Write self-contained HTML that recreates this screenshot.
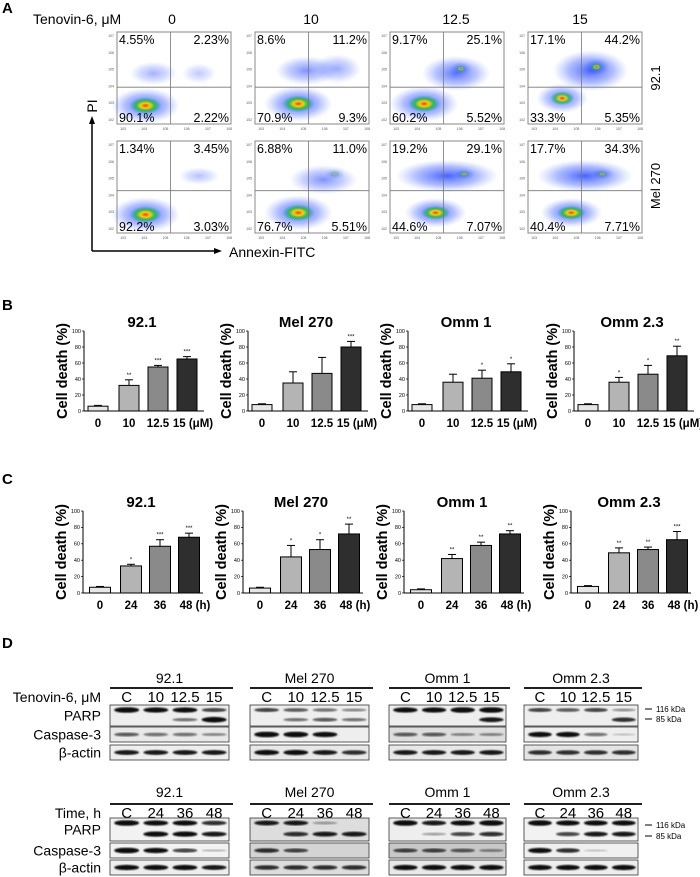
<!DOCTYPE html>
<html><head><meta charset="utf-8"><style>
html,body{margin:0;padding:0;background:#fff;}
svg{display:block;font-family:"Liberation Sans",Arial,sans-serif;}
</style></head><body>
<svg id="fig" width="700" height="877" viewBox="0 0 700 877" xmlns="http://www.w3.org/2000/svg">
<defs>
<radialGradient id="gBlue"><stop offset="0" stop-color="#1a3cff" stop-opacity="0.8"/><stop offset="0.6" stop-color="#3a5cff" stop-opacity="0.4"/><stop offset="1" stop-color="#6a8cff" stop-opacity="0"/></radialGradient>
<radialGradient id="gHot"><stop offset="0" stop-color="#ff3010" stop-opacity="1"/><stop offset="0.3" stop-color="#ffd000" stop-opacity="1"/><stop offset="0.6" stop-color="#20c040" stop-opacity="0.9"/><stop offset="1" stop-color="#10a0c0" stop-opacity="0"/></radialGradient>
<filter id="blur1"><feGaussianBlur stdDeviation="0.8"/></filter>
</defs>
<g id="panelA"></g>
<g id="panelBC"></g>
<g id="panelD"></g>
</svg>
<script>
// ---------- data ----------
const bTitles=["92.1","Mel 270","Omm 1","Omm 2.3"];
const bCats=["0","10","12.5","15 (\u03bcM)"];
const bMeans=[[6,32,55,65],[8,35,47,80],[8,36,41,49],[8,36,46,69]];
const bErrs=[[1,7,2,3],[1,14,20,7],[1,10,10,10],[1,6,11,12]];
const bStars=[["","**","***","***"],["","","","***"],["","","*","*"],["","*","*","**"]];
const cTitles=["92.1","Mel 270","Omm 1","Omm 2.3"];
const cCats=["0","24","36","48 (h)"];
const cMeans=[[7,33,57,68],[6,44,53,72],[4,42,58,72],[8,49,53,65]];
const cErrs=[[1,2,8,5],[1,14,12,12],[1,5,4,4],[1,6,3,10]];
const cStars=[["","*","***","***"],["","*","*","**"],["","**","**","**"],["","**","**","***"]];
const flowPct=[
 [["4.55%","2.23%","90.1%","2.22%"],["8.6%","11.2%","70.9%","9.3%"],["9.17%","25.1%","60.2%","5.52%"],["17.1%","44.2%","33.3%","5.35%"]],
 [["1.34%","3.45%","92.2%","3.03%"],["6.88%","11.0%","76.7%","5.51%"],["19.2%","29.1%","44.6%","7.07%"],["17.7%","34.3%","40.4%","7.71%"]]];
const doses=["0","10","12.5","15"];
const tLanesTop=["C","10","12.5","15"];
const tLanesBot=["C","24","36","48"];
const blotTitles=["92.1","Mel 270","Omm 1","Omm 2.3"];
// band intensities [PARP116, PARP85, Casp3, actin] per lane
const blotTop=[
 [[1,.9,.9,.6],[0,0,.4,1],[.5,.4,.4,.3],[.8,.8,.8,.8]],
 [[.6,.5,.4,.3],[0,.4,.5,.4],[1,1,.9,0],[.9,.9,.8,.7]],
 [[.9,.9,1,1],[0,0,0,.8],[.5,.5,.3,.3],[.8,.8,.8,.8]],
 [[.6,.5,.6,.25],[0,0,0,.7],[.9,.9,.4,.05],[.7,.7,.7,.7]]];
const blotBot=[
 [[1,.9,.9,.7],[0,.9,.9,.8],[1,.9,.6,.1],[.9,.9,.9,.8]],
 [[.8,.8,.2,0],[0,.7,.8,.8],[.7,.6,0,0],[.7,.7,.7,.7]],
 [[1,.8,.9,1],[0,.2,.6,.7],[.6,.6,.5,.3],[.9,.9,.9,.9]],
 [[1,.9,.9,.9],[0,.6,.8,.8],[.9,.7,.05,0],[.9,.9,.9,.9]]];

const NS="http://www.w3.org/2000/svg";
function mk(parent,tag,attrs,text){const e=document.createElementNS(NS,tag);for(const k in attrs)e.setAttribute(k,attrs[k]);if(text!==undefined)e.textContent=text;parent.appendChild(e);return e;}

// ---------- Panel A ----------
const A=document.getElementById('panelA');
let t=mk(A,'text',{x:2,y:13,'font-size':15,'font-weight':'bold'},'A');


t=mk(A,'text',{x:33,y:24,'font-size':14},'Tenovin-6, \u03bcM');


const colX=[117,255,390,528], rowY=[32,141], pw=114, ph=92;
const headX=[172,311,456,580];
doses.forEach((d,i)=>{const h=mk(A,'text',{x:headX[i],y:24,'font-size':14,'text-anchor':'middle'},d);
 
 });
// clusters: [cx,cy,rx,ry,hot(0/1),opacity]
const clusters=[
 [[[.25,.8,.2,.12,1,1],[.32,.45,.14,.08,0,.5],[.72,.45,.1,.07,0,.35]],
  [[.38,.78,.2,.12,1,1],[.45,.42,.18,.1,0,.7],[.72,.4,.14,.1,0,.55]],
  [[.3,.78,.2,.12,1,1],[.58,.45,.2,.12,0,.9],[.62,.4,.07,.05,1,.6]],
  [[.3,.72,.15,.1,1,.9],[.55,.42,.22,.14,0,1],[.6,.38,.08,.06,1,.8]]],
 [[[.25,.8,.2,.12,1,1],[.72,.38,.12,.06,0,.4]],
  [[.38,.78,.2,.12,1,1],[.6,.42,.2,.1,0,.7],[.7,.36,.06,.04,1,.4]],
  [[.4,.78,.18,.1,1,1],[.5,.38,.3,.11,0,1],[.65,.36,.07,.04,1,.6]],
  [[.38,.78,.18,.1,1,1],[.5,.38,.28,.11,0,1],[.65,.36,.07,.04,1,.6]]]];
const hLine=[.6,.54];
for(let r=0;r<2;r++)for(let c=0;c<4;c++){
 const x0=colX[c],y0=rowY[r];
 const g=mk(A,'g',{});
 
 
 mk(g,'rect',{x:x0,y:y0,width:pw,height:ph,fill:'#fff',stroke:'#888','stroke-width':1});
 clusters[r][c].forEach(cl=>{
  mk(g,'ellipse',{cx:x0+cl[0]*pw,cy:y0+cl[1]*ph,rx:cl[2]*pw*1.5,ry:cl[3]*ph*1.6,fill:'url(#gBlue)',opacity:cl[5]});
  if(cl[4])mk(g,'ellipse',{cx:x0+cl[0]*pw,cy:y0+cl[1]*ph,rx:cl[2]*pw*0.7,ry:cl[3]*ph*0.75,fill:'url(#gHot)',opacity:cl[5]});
 });
 mk(g,'line',{x1:x0+0.47*pw,y1:y0,x2:x0+0.47*pw,y2:y0+ph,stroke:'#777','stroke-width':0.8});
 mk(g,'line',{x1:x0,y1:y0+hLine[r]*ph,x2:x0+pw,y2:y0+hLine[r]*ph,stroke:'#777','stroke-width':0.8});
 const p=flowPct[r][c];
 [[x0+2,y0+12,'start',p[0]],[x0+pw-2,y0+12,'end',p[1]],[x0+2,y0+ph-2,'start',p[2]],[x0+pw-2,y0+ph-2,'end',p[3]]].forEach(q=>{
  const tt=mk(g,'text',{x:q[0],y:q[1],'font-size':12.5,'text-anchor':q[2]},q[3]);
  
  });
 for(let k=0;k<6;k++){
  mk(g,'text',{x:x0-3,y:y0+ph-4-k*(ph-8)/5+1,'font-size':3.5,'text-anchor':'end',fill:'#555'},'10'+(k+2));
  mk(g,'text',{x:x0+6+k*(pw-10)/4.9,y:y0+ph+6,'font-size':3.5,'text-anchor':'middle',fill:'#555'},'10'+(k+3));
 }
}
t=mk(A,'text',{transform:'translate(660,78) rotate(-90)','font-size':13,'text-anchor':'middle'},'92.1');


t=mk(A,'text',{transform:'translate(660,186) rotate(-90)','font-size':13,'text-anchor':'middle'},'Mel 270');


mk(A,'line',{x1:92,y1:251,x2:92,y2:122,stroke:'#000','stroke-width':1.5});
mk(A,'polygon',{points:'92,116 89,124 95,124',fill:'#000'});
mk(A,'line',{x1:92,y1:251,x2:216,y2:251,stroke:'#000','stroke-width':1.5});
mk(A,'polygon',{points:'222,251 214,248 214,254',fill:'#000'});
t=mk(A,'text',{transform:'translate(97,106) rotate(-90)','font-size':14,'text-anchor':'middle'},'PI');


t=mk(A,'text',{x:229,y:257,'font-size':14},'Annexin-FITC');



// ---------- Panels B & C ----------
const BC=document.getElementById('panelBC');
const barFills=['#e6e6e6','#b4b4b4','#8a8a8a','#2e2e2e'];
function barChart(axX,y0,pxPer,title,cats,means,errs,stars,offs,bw){
 const g=mk(BC,'g',{});
 
 
 const yS=v=>y0-v*pxPer;
 const tt=mk(g,'text',{x:axX+58,y:yS(100)-4,'font-size':15,'font-weight':'bold','text-anchor':'middle'},title);
 
 
 const yl=mk(g,'text',{transform:`translate(${axX-17},${yS(50)}) rotate(-90)`,'font-size':14.5,'font-weight':'bold','text-anchor':'middle'},'Cell death (%)');
 
 
 mk(g,'line',{x1:axX,y1:yS(100),x2:axX,y2:y0,stroke:'#000','stroke-width':1});
 mk(g,'line',{x1:axX,y1:y0,x2:axX+120,y2:y0,stroke:'#000','stroke-width':1});
 for(let v=0;v<=100;v+=20){
  mk(g,'line',{x1:axX-2,y1:yS(v),x2:axX,y2:yS(v),stroke:'#000','stroke-width':0.7});
  mk(g,'text',{x:axX-3,y:yS(v)+1.8,'font-size':5.5,'text-anchor':'end'},String(v));
 }
 means.forEach((m,i)=>{
  const cx=axX+offs[i];
  const b=mk(g,'rect',{x:cx-bw/2,y:yS(m),width:bw,height:y0-yS(m),fill:barFills[i],stroke:'#000','stroke-width':1});
  
  
  const e=errs[i];
  mk(g,'line',{x1:cx,y1:yS(m),x2:cx,y2:yS(m+e),stroke:'#000','stroke-width':1});
  mk(g,'line',{x1:cx-4,y1:yS(m+e),x2:cx+4,y2:yS(m+e),stroke:'#000','stroke-width':1});
  if(stars[i]){const s=mk(g,'text',{x:cx,y:yS(m+e)-3,'font-size':6,'text-anchor':'middle'},stars[i]);
   
   }
  const xl=mk(g,'text',{x:cx+(i==3?6:0),y:y0+16,'font-size':11.5,'font-weight':'bold','text-anchor':'middle'},cats[i]);
  
  
 });
}
t=mk(BC,'text',{x:2,y:310,'font-size':15,'font-weight':'bold'},'B');


t=mk(BC,'text',{x:2,y:484,'font-size':15,'font-weight':'bold'},'C');


const bAx=[84,248,408,574], cAx=[83,243,404,571];
for(let i=0;i<4;i++){
 barChart(bAx[i],411,0.80,bTitles[i],bCats,bMeans[i],bErrs[i],bStars[i],[14,45,74,103],20);
 barChart(cAx[i],593,0.82,cTitles[i],cCats,cMeans[i],cErrs[i],cStars[i],[17,48,77,106],21);
}

// ---------- Panel D ----------
const D=document.getElementById('panelD');
t=mk(D,'text',{x:2,y:648,'font-size':15,'font-weight':'bold'},'D');


const blotX=[[110,229],[250,369],[389,506],[524,638]];
function blotSet(data,lanes,titleY,lineY,laneY,boxes,firstLabel,bgs){
 for(let b=0;b<4;b++){
  const [x0,x1]=blotX[b], w=x1-x0;
  const g=mk(D,'g',{});
  
  
  mk(g,'text',{x:(x0+x1)/2,y:titleY,'font-size':14,'text-anchor':'middle'},blotTitles[b]);
  mk(g,'line',{x1:x0,y1:lineY,x2:x1+4,y2:lineY,stroke:'#000','stroke-width':1.8});
  lanes.forEach((l,i)=>mk(g,'text',{x:x0+w*(0.14+i*0.245),y:laneY,'font-size':15,'text-anchor':'middle'},l));
  boxes.forEach((bx,k)=>{
   mk(g,'rect',{x:x0,y:bx[0],width:w,height:bx[1]-bx[0],fill:bgs[b][k],stroke:'#333','stroke-width':0.8});
  });
  const d=data[b];
  const bandY=[boxes[0][0]+5,boxes[0][0]+(boxes[0][1]-boxes[0][0])*0.7,(boxes[1][0]+boxes[1][1])/2,(boxes[2][0]+boxes[2][1])/2];
  for(let k=0;k<4;k++)for(let i=0;i<4;i++){
   const v=d[k][i]; if(v<=0)continue;
   const cx=x0+w*(0.14+i*0.245);
   const bd=mk(g,'ellipse',{cx:cx,cy:bandY[k],rx:w*0.105,ry:1+v*1.8,fill:'#111',opacity:Math.min(1,0.15+v),filter:'url(#blur1)'});
   
   
  }
 }
 const labs=[[firstLabel,laneY],['PARP',(boxes[0][0]+boxes[0][1])/2+5],['Caspase-3',(boxes[1][0]+boxes[1][1])/2+5],['\u03b2-actin',(boxes[2][0]+boxes[2][1])/2+5]];
 labs.forEach(l=>{const tl=mk(D,'text',{x:101,y:l[1],'font-size':14,'text-anchor':'end'},l[0]);
  
  });
}
const bgTop=[['#eee','#e8e8e8','#eee'],['#eee','#eee','#e8e8e8'],['#eee','#ddd','#e8e8e8'],['#eee','#eee','#e4e4e4']];
const bgBot=[['#f2f2f2','#f2f2f2','#eee'],['#ddd','#d4d4d4','#ddd'],['#eee','#c8c8c8','#e8e8e8'],['#f2f2f2','#f0f0f0','#eee']];
blotSet(blotTop,tLanesTop,683,688,702,[[705,726],[727,742],[745,760]],'Tenovin-6, \u03bcM',bgTop);
blotSet(blotBot,tLanesBot,797,804,818,[[818,841],[843,858],[860,875]],'Time, h',bgBot);
[[709,'116 kDa'],[719,'85 kDa'],[825,'116 kDa'],[836,'85 kDa']].forEach(k=>{
 mk(D,'line',{x1:645,y1:k[0],x2:652,y2:k[0],stroke:'#000','stroke-width':1});
 const kt=mk(D,'text',{x:656,y:k[0]+3,'font-size':8},k[1]);
 
 
});
</script>
</body></html>
